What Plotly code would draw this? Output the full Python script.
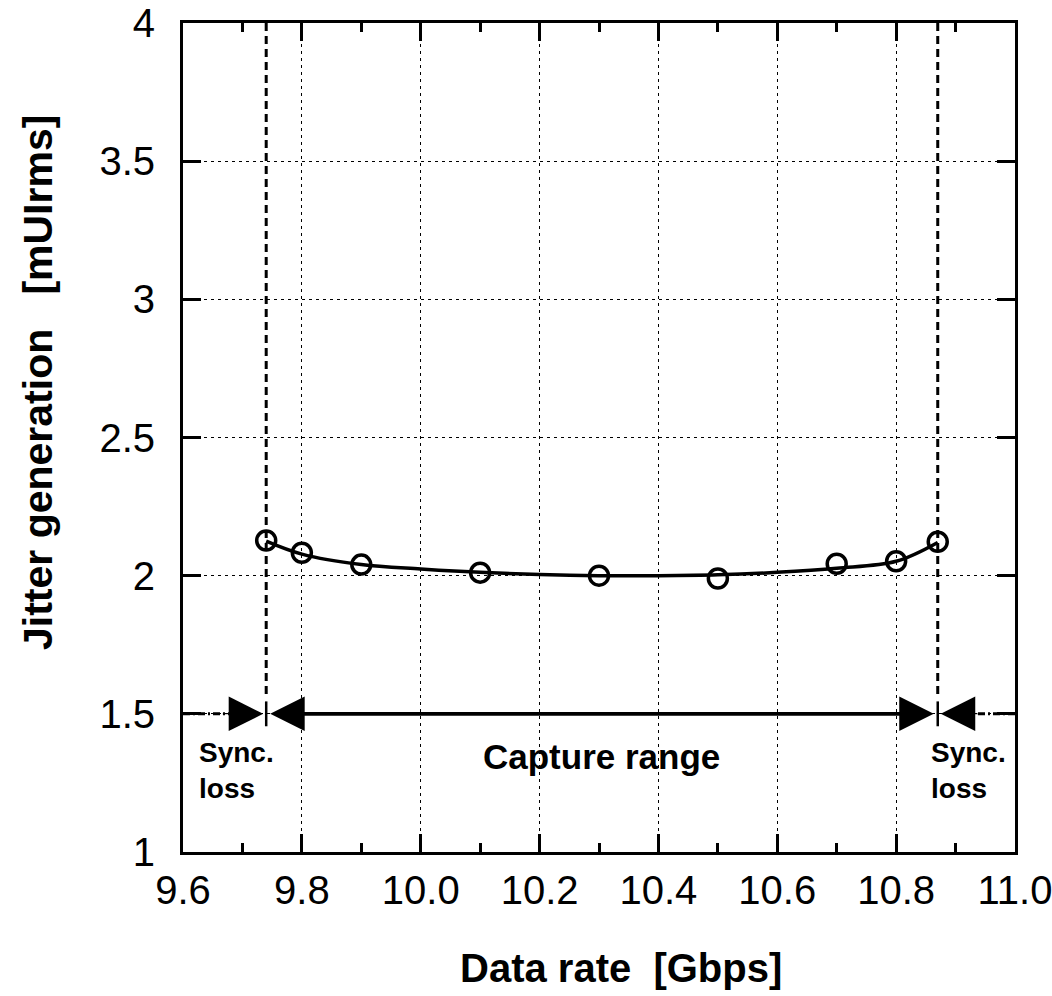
import plotly.graph_objects as go

# ---- data ----
rate_gbps = [9.74, 9.8, 9.9, 10.1, 10.3, 10.5, 10.7, 10.8, 10.87]
jitter_mui = [2.127, 2.083, 2.04, 2.011, 2.0, 1.99, 2.043, 2.052, 2.123]

fit_x = [9.74, 9.8, 9.9, 10.0, 10.1, 10.2, 10.3, 10.4, 10.5, 10.6, 10.7, 10.8, 10.87]
fit_y = [2.125, 2.078, 2.040, 2.024, 2.012, 2.004, 2.0, 2.0, 2.003, 2.012, 2.027, 2.052, 2.12]

sync_low = 9.74
sync_high = 10.87
range_level = 1.5

x_ticks = [9.6, 9.8, 10.0, 10.2, 10.4, 10.6, 10.8, 11.0]
x_minor = [9.7, 9.9, 10.1, 10.3, 10.5, 10.7, 10.9]
y_ticks = [1, 1.5, 2, 2.5, 3, 3.5, 4]
y_labels = ["1", "1.5", "2", "2.5", "3", "3.5", "4"]

FONT = "Liberation Sans, Arial, sans-serif"
BLACK = "black"

fig = go.Figure()

# vertical sync-loss boundaries (dashed) and small solid ticks at the range level
for xs in (sync_low, sync_high):
    fig.add_trace(go.Scatter(x=[xs, xs], y=[4, range_level + 0.07], mode="lines",
                             line=dict(color=BLACK, width=3, dash="8px,5px"),
                             showlegend=False, hoverinfo="skip"))
    fig.add_trace(go.Scatter(x=[xs, xs], y=[range_level + 0.045, range_level - 0.045],
                             mode="lines", line=dict(color=BLACK, width=2.5),
                             showlegend=False, hoverinfo="skip"))

# dash-dot lines in the sync-loss regions
fig.add_trace(go.Scatter(x=[9.6, sync_low - 0.02], y=[range_level, range_level], mode="lines",
                         line=dict(color=BLACK, width=3, dash="7px,3px,2px,3px"),
                         showlegend=False, hoverinfo="skip"))
fig.add_trace(go.Scatter(x=[11.0, sync_high + 0.02], y=[range_level, range_level], mode="lines",
                         line=dict(color=BLACK, width=3, dash="7px,3px,2px,3px"),
                         showlegend=False, hoverinfo="skip"))

# capture range shaft
fig.add_trace(go.Scatter(x=[sync_low + 0.02, sync_high - 0.02], y=[range_level, range_level],
                         mode="lines", line=dict(color=BLACK, width=3.8),
                         showlegend=False, hoverinfo="skip"))

# fitted curve
fig.add_trace(go.Scatter(x=fit_x, y=fit_y, mode="lines",
                         line=dict(color=BLACK, width=3.5, shape="spline", smoothing=1.0),
                         showlegend=False, hoverinfo="skip"))

# measured points
fig.add_trace(go.Scatter(x=rate_gbps, y=jitter_mui, mode="markers",
                         marker=dict(symbol="circle-open", size=19, color=BLACK,
                                     line=dict(color=BLACK, width=3.5)),
                         showlegend=False))

annotations = []
# arrow heads (thin shafts hidden under the drawn lines)
head = dict(xref="x", yref="y", text="", showarrow=True, arrowhead=2,
            arrowwidth=0.6, arrowsize=11.5, arrowcolor=BLACK)
annotations.append(dict(head, x=sync_low, y=range_level, ax=45, ay=0, standoff=4))
annotations.append(dict(head, x=sync_high, y=range_level, ax=-45, ay=0, standoff=4))
annotations.append(dict(head, x=sync_low, y=range_level, ax=-45, ay=0, standoff=3))
annotations.append(dict(head, x=sync_high, y=range_level, ax=45, ay=0, standoff=3))

annotations.append(dict(x=9.6235, y=1.295, xref="x", yref="y", text="<b>Sync.<br>loss</b>",
                        showarrow=False, xanchor="left", yanchor="middle", align="left",
                        font=dict(family=FONT, size=28, color=BLACK)))
annotations.append(dict(x=10.855, y=1.295, xref="x", yref="y", text="<b>Sync.<br>loss</b>",
                        showarrow=False, xanchor="left", yanchor="middle", align="left",
                        font=dict(family=FONT, size=28, color=BLACK)))
annotations.append(dict(x=10.304, y=1.345, xref="x", yref="y", text="<b>Capture range</b>",
                        showarrow=False, xanchor="center", yanchor="middle",
                        font=dict(family=FONT, size=35, color=BLACK)))

# axis titles
annotations.append(dict(x=0.527, y=-0.140, xref="paper", yref="paper",
                        text="<b>Data rate  [Gbps]</b>", showarrow=False,
                        xanchor="center", yanchor="middle",
                        font=dict(family=FONT, size=40, color=BLACK)))
annotations.append(dict(x=-0.174, y=0.566, xref="paper", yref="paper",
                        text="<b>Jitter generation   [mUIrms]</b>", showarrow=False,
                        textangle=-90, xanchor="center", yanchor="middle",
                        font=dict(family=FONT, size=41, color=BLACK)))

axis_common = dict(showline=True, linewidth=3, linecolor=BLACK, mirror="ticks",
                   ticks="inside", ticklen=18, tickwidth=2.5, tickcolor=BLACK,
                   showgrid=True, gridcolor=BLACK, gridwidth=1, griddash="3px,4px",
                   zeroline=False, tickfont=dict(family=FONT, size=40, color=BLACK),
                   automargin=False, ticklabeloverflow="allow")

fig.update_layout(
    width=1052, height=996,
    margin=dict(l=183, r=37, t=23, b=143.5),
    paper_bgcolor="white", plot_bgcolor="white",
    font=dict(family=FONT, color=BLACK),
    xaxis=dict(range=[9.6, 11.0], tickmode="array", tickvals=x_ticks,
               ticktext=[f"{v:.1f}" for v in x_ticks], ticklabelstandoff=1,
               minor=dict(tickmode="array", tickvals=x_minor, ticks="inside", ticklen=9,
                          tickwidth=2.5, tickcolor=BLACK, showgrid=False),
               **axis_common),
    yaxis=dict(range=[1, 4], tickmode="array", tickvals=y_ticks, ticktext=y_labels,
               ticklabelstandoff=17, **axis_common),
    annotations=annotations,
    showlegend=False,
)

# remove the default page margin so the figure sits at the window's top-left corner
fig.write_html("out.html", config={"displayModeBar": False},
               post_script="document.body.style.margin='0px';")
